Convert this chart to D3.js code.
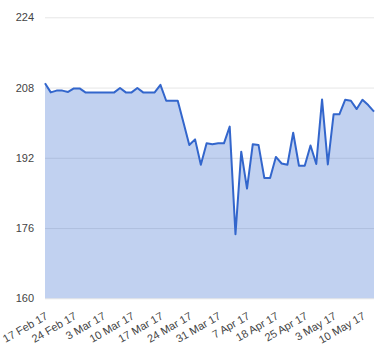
<!DOCTYPE html>
<html>
<head>
<meta charset="utf-8">
<script src="https://cdn.jsdelivr.net/npm/d3@7/dist/d3.min.js"></script>
<style>
  html, body { margin: 0; padding: 0; background: #fff; }
  svg { display: block; font-family: Arial, "Liberation Sans", sans-serif; }
</style>
</head>
<body>
<svg id="chart" width="380" height="360"></svg>
<script>
// Trading-day categories (London market, 17 Feb 2017 – 12 May 2017)
const dates = [
  "17 Feb 17","20 Feb 17","21 Feb 17","22 Feb 17","23 Feb 17","24 Feb 17",
  "27 Feb 17","28 Feb 17","1 Mar 17","2 Mar 17","3 Mar 17",
  "6 Mar 17","7 Mar 17","8 Mar 17","9 Mar 17","10 Mar 17",
  "13 Mar 17","14 Mar 17","15 Mar 17","16 Mar 17","17 Mar 17",
  "20 Mar 17","21 Mar 17","22 Mar 17","23 Mar 17","24 Mar 17",
  "27 Mar 17","28 Mar 17","29 Mar 17","30 Mar 17","31 Mar 17",
  "3 Apr 17","4 Apr 17","5 Apr 17","6 Apr 17","7 Apr 17",
  "10 Apr 17","11 Apr 17","12 Apr 17","13 Apr 17","18 Apr 17",
  "19 Apr 17","20 Apr 17","21 Apr 17","24 Apr 17","25 Apr 17",
  "26 Apr 17","27 Apr 17","28 Apr 17","2 May 17","3 May 17",
  "4 May 17","5 May 17","8 May 17","9 May 17","10 May 17",
  "11 May 17","12 May 17"
];
const values = [
  209.0, 206.9, 207.3, 207.3, 207.0, 207.8,
  207.8, 206.9, 206.9, 206.9, 206.9,
  206.9, 206.9, 207.9, 206.9, 206.9,
  207.9, 206.9, 206.9, 206.9, 208.6,
  205.0, 205.0, 205.0, 200.0, 194.9,
  196.2, 190.4, 195.3, 195.1, 195.3,
  195.3, 199.1, 174.6, 193.4, 185.0,
  195.1, 194.9, 187.4, 187.4, 192.2,
  190.7, 190.4, 197.7, 190.2, 190.2,
  194.8, 190.6, 205.3, 190.5, 201.9,
  201.9, 205.2, 205.0, 203.1, 205.2,
  204.0, 202.5
];
const tickLabels = ["17 Feb 17","24 Feb 17","3 Mar 17","10 Mar 17","17 Mar 17","24 Mar 17",
  "31 Mar 17","7 Apr 17","18 Apr 17","25 Apr 17","3 May 17","10 May 17"];
const yTicks = [160, 176, 192, 208, 224];

const margin = {left: 45, right: 6, top: 17.3, bottom: 61.7};
const W = 380, H = 360;
const svg = d3.select("#chart");

const x = d3.scalePoint().domain(dates).range([margin.left, W - margin.right]).padding(0);
const y = d3.scaleLinear().domain([160, 224]).range([H - margin.bottom, margin.top]);

// gridlines
const yAxis = d3.axisLeft(y).tickValues(yTicks).tickSize(-(W - margin.left - margin.right)).tickPadding(11);
const gy = svg.append("g").attr("transform", `translate(${margin.left},0)`).call(yAxis);
gy.select(".domain").remove();
gy.selectAll(".tick line").attr("stroke", "#e6e6e6").attr("stroke-width", 1);
gy.selectAll(".tick text").attr("fill", "#444").attr("font-size", "11px")
  .attr("font-family", "Arial, 'Liberation Sans', sans-serif");

// area + line
const area = d3.area().x((d, i) => x(dates[i])).y0(y(160)).y1(d => y(d));
const line = d3.line().x((d, i) => x(dates[i])).y(d => y(d));
svg.append("path").datum(values).attr("d", area).attr("fill", "#3366cc").attr("fill-opacity", 0.3);
svg.append("path").datum(values).attr("d", line).attr("fill", "none")
  .attr("stroke", "#3366cc").attr("stroke-width", 2).attr("stroke-linejoin", "round");

// x axis labels
const xAxis = d3.axisBottom(x).tickValues(tickLabels).tickSize(0).tickPadding(0);
const gx = svg.append("g").attr("transform", `translate(0,${H - margin.bottom})`).call(xAxis);
gx.select(".domain").remove();
gx.selectAll(".tick text")
  .attr("fill", "#444").attr("font-size", "11px")
  .attr("font-family", "Arial, 'Liberation Sans', sans-serif")
  .attr("text-anchor", "end").attr("dy", null).attr("y", null)
  .attr("transform", "translate(3,20) rotate(-30)");
</script>
</body>
</html>
